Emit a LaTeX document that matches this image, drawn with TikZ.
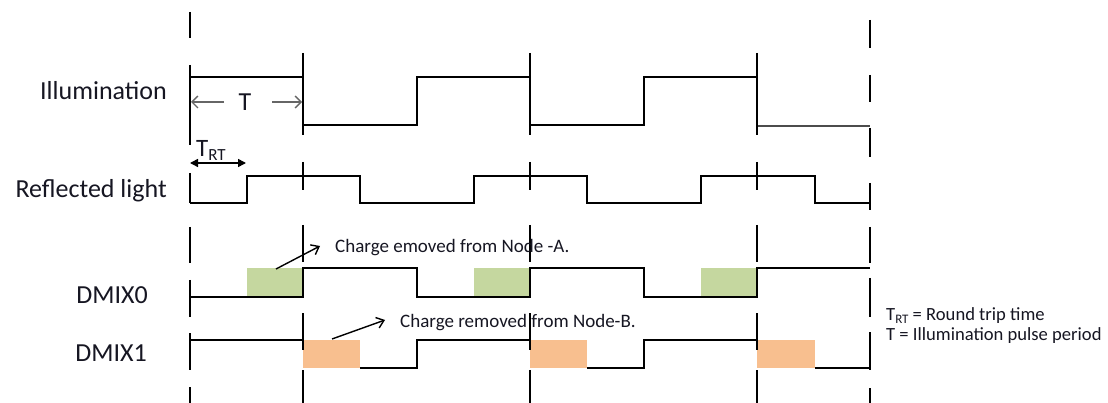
\documentclass[tikz,border=0pt]{standalone}
\usepackage{fontspec}
\setmainfont{Carlito}
\usetikzlibrary{arrows.meta}
\definecolor{txt}{RGB}{22,22,34}
\definecolor{gbox}{RGB}{197,215,159}
\definecolor{obox}{RGB}{248,191,143}
\begin{document}
\begin{tikzpicture}[x=1pt,y=-1pt,
  wave/.style={line width=2.4pt,black,line join=miter},
  guide/.style={line width=2.4pt,black},
  lab/.style={font=\fontsize{26}{30}\selectfont,text=txt,inner sep=0pt},
  note/.style={font=\fontsize{19}{22}\selectfont,text=txt,inner sep=0pt},
  legend/.style={font=\fontsize{18.6}{22}\selectfont,text=txt,inner sep=0pt},
  barb/.style={-{Straight Barb[length=7pt,width=11pt]},line width=1.4pt},
  gbx/.style={fill=gbox,draw=none},
  obx/.style={fill=obox,draw=none}]
\useasboundingbox (0,0) rectangle (1108,403);
\fill[white] (0,0) rectangle (1108,403);

% boxes
\fill[gbx] (247,268) rectangle (303,297);
\fill[gbx] (474,268) rectangle (530,297);
\fill[gbx] (701,268) rectangle (757,297);
\fill[obx] (303,340) rectangle (360,368);
\fill[obx] (530,340) rectangle (587,368);
\fill[obx] (757,340) rectangle (815,368);

% Illumination
\draw[wave,line width=2.1pt] (190,77) -- (303,77) -- (303,125) -- (417,125) -- (417,77) -- (530,77) -- (530,125) -- (644,125) -- (644,77) -- (757,77) -- (757,126);
\draw[line width=1.8pt,black!70] (757,126) -- (870,126);
% Reflected light
\draw[wave] (190,203) -- (247,203) -- (247,176) -- (360,176) -- (360,203) -- (474,203) -- (474,176) -- (587,176) -- (587,203) -- (701,203) -- (701,176) -- (815,176) -- (815,203) -- (870,203);
% DMIX0
\draw[wave] (190,297) -- (303,297) -- (303,268) -- (417,268) -- (417,297) -- (530,297) -- (530,268) -- (644,268) -- (644,297) -- (757,297) -- (757,268) -- (870,268);
% DMIX1
\draw[wave] (190,340) -- (303,340);
\draw[wave] (360,368) -- (417,368) -- (417,340) -- (530,340);
\draw[wave] (587,368) -- (644,368) -- (644,340) -- (757,340);
\draw[wave] (815,368) -- (870,368);

% guide lines (dashed verticals)
\foreach \a/\b in {12/38,65/145,173/203,227/263,280/317,333/370,387/403}
  \draw[guide] (190,\a) -- (190,\b);
\foreach \x in {303,530,757}
  \foreach \a/\b in {53/135,162/190,225/262,313/350,370/403}
    \draw[guide] (\x,\a) -- (\x,\b);
\foreach \a/\b in {20/48,75/102,128/157,183/210,227/263,278/317,332/370,388/403}
  \draw[guide] (870,\a) -- (870,\b);

% labels
\node[lab,anchor=base east] (ill) at (167,100) {Illumination};
\node[lab,anchor=base east] (refl) at (167,198) {Reflected light};
\node[lab,anchor=base east] (d0) at (148,303) {DMIX0};
\node[lab,anchor=base east] (d1) at (147,361) {DMIX1};

% period T
\node[lab,anchor=base] (tper) at (245,111) {T};
\coordinate (tl) at (191,102);
\coordinate (tr) at (302,102);
\draw[-{Straight Barb[length=6pt,width=12pt]},line width=1.3pt,black!60] (tl) ++(33,0) -- (tl);
\draw[-{Straight Barb[length=6pt,width=12pt]},line width=1.3pt,black!60] (tr) ++(-30,0) -- (tr);

% round trip
\node[anchor=base west,inner sep=0pt,text=txt] (trt) at (196,157) {\fontsize{25}{28}\selectfont T\raisebox{-4pt}{\fontsize{17}{20}\selectfont RT}};
\coordinate (rta) at (190,163);
\coordinate (rtb) at (246,163);
\draw[{Triangle[length=8pt,width=8pt]}-{Triangle[length=8pt,width=8pt]},line width=1.5pt] (rta) -- (rtb);

% charge annotations
\node[note,anchor=base west] (ca) at (335,253) {Charge emoved from Node -A.};
\node[note,anchor=base west] (cb) at (400,327) {Charge removed from Node-B.};
\coordinate (pa) at (276,269);
\coordinate (pb) at (332,339);
\draw[barb] (pa) -- (320,246);
\draw[barb] (pb) -- (385,320);

% legend
\node[legend,anchor=base west] (l1) at (886,320) {T\raisebox{-3pt}{\fontsize{13}{15}\selectfont RT} = Round trip time};
\node[legend,anchor=base west] (l2) at (886,340) {T = Illumination pulse period};
\end{tikzpicture}
\end{document}
